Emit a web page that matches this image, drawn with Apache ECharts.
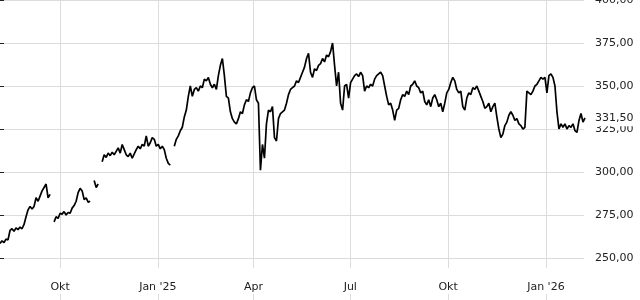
<!DOCTYPE html>
<html><head><meta charset="utf-8">
<script src="https://cdn.jsdelivr.net/npm/echarts@6/dist/echarts.min.js"></script>
<style>html,body{margin:0;padding:0;background:#fff}#c{width:640px;height:300px}</style>
</head><body><div id="c"></div>
<script>
// observation dates: first observation and spacing between observations
const startDate = '2024-08-05T12:00:00';
const stepDays = 1.8845;
const endDate = '2026-02-05T20:00:00';
// price readings (null = gap in the series)
const prices = [
258.5, 260, 259, 261, 260.5, 266, 267, 265.5, 267.5, 266.5,
268, 267, 269.5, 274, 278, 280, 278.5, 280, 285, 283,
286, 289, 291, 293, 285, 287, null, 271, 274, 273,
276, 275.5, 277, 275, 276.5, 276, 279, 280.5, 283, 288,
290.5, 289, 284, 285, 282.5, 283, null, 295, 291, 293,
null, 306, 310, 308.5, 311, 309.5, 311.5, 310, 312, 314,
311, 316, 313, 310, 309, 311, 308, 310.5, 313, 315,
313.5, 316, 315, 321, 315, 317, 320, 319, 315, 316,
313.5, 315, 313, 308, 305, 304, null, 315, 319, 321,
324, 326, 332, 336, 344, 350, 344, 348, 349, 347,
350, 349, 354, 353, 355, 351, 349, 351, 348, 356,
362, 366, 356, 344, 343, 335, 331, 329, 328, 331,
335, 334, 339, 342, 341, 346, 349, 350, 342, 340,
301, 316, 308, 328, 336, 335, 338, 320, 318, 331,
334, 335, 336, 340, 345, 348, 349, 350, 353, 352,
355, 358, 361, 366, 369, 358, 355, 360, 359, 362,
363, 366, 364, 368, 367, 370, 375, 362, 350, 358,
340, 336, 350, 351, 343, 352, 354, 356, 357, 355.5,
358, 356, 347, 350, 349, 351, 350, 354, 356, 357,
358, 356, 350, 344, 339, 340, 336, 330, 336, 337,
342, 345, 344, 347, 345, 350, 351, 353, 350, 349,
346, 347, 341, 339, 342, 338, 343, 345, 342, 338,
340, 335, 340, 346, 348, 352, 355, 353, 348, 346,
347, 338, 336, 343, 346, 345, 349, 348, 350, 347,
344, 341, 337, 338, 340, 335, 338, 340, 332, 325,
320, 322, 327, 329, 333, 335, 333, 330, 331, 328,
327, 325, 326, 347, 346, 345, 347, 350, 351, 353,
355, 354, 355, 346, 356, 357, 355, 350, 335, 325,
328, 326, 328, 325, 327, 326, 328, 324, 323, 330,
334, 329, 331.5
];
const lastPrice = 331.5;
const xTickDates = ['2024-10-01T00:00:00','2025-01-01T00:00:00','2025-04-01T00:00:00','2025-07-01T00:00:00','2025-10-01T00:00:00','2026-01-01T00:00:00'];
const xTickLabels = ['Okt', "Jan '25", 'Apr', 'Jul', 'Okt', "Jan '26"];
const yMin = 225, yMax = 400, yStep = 25;

const DAY = 86400000;
const startMs = new Date(startDate).getTime();
const endDays = (new Date(endDate).getTime() - startMs) / DAY;
const tickDays = xTickDates.map(d => (new Date(d).getTime() - startMs) / DAY);
const seriesData = prices.map((v, i) => [i * stepDays, v]);
const fmtNum = v => v.toFixed(2).replace('.', ',');
const FONT = 'DejaVu Sans';

const chart = echarts.init(document.getElementById('c'), null, {renderer: 'canvas'});
chart.setOption({
  animation: false,
  backgroundColor: '#fff',
  grid: {left: 0, right: 56, top: 0, bottom: -1, containLabel: false, outerBoundsMode: 'none'},
  xAxis: {
    type: 'value', min: 0, max: endDays,
    axisLine: {show: false},
    axisTick: {show: false, customValues: tickDays},
    splitLine: {show: true, lineStyle: {color: '#dcdcdc', width: 1}},
    axisLabel: {
      customValues: tickDays, inside: true, margin: 7,
      backgroundColor: '#fff', padding: [14, 1, 1, 1],
      fontFamily: FONT, fontSize: 11, color: '#222',
      formatter: function (val) {
        let best = 0, bd = Infinity;
        tickDays.forEach((t, i) => { const d = Math.abs(t - val); if (d < bd) { bd = d; best = i; } });
        return xTickLabels[best];
      }
    }
  },
  yAxis: {
    type: 'value', position: 'right', min: yMin, max: yMax, interval: yStep, offset: 1,
    axisLine: {show: false},
    axisTick: {show: true, length: 4, lineStyle: {color: '#222', width: 1}},
    splitLine: {show: true, lineStyle: {color: '#dcdcdc', width: 1}},
    axisLabel: {showMinLabel: false, margin: 10, fontFamily: FONT, fontSize: 11, color: '#222', formatter: fmtNum}
  },
  series: [{
    type: 'line', data: seriesData, showSymbol: false, connectNulls: false, clip: false,
    lineStyle: {color: '#000', width: 1.7}, z: 3,
    markLine: {
      silent: true, symbol: 'none', animation: false,
      lineStyle: {color: 'rgba(0,0,0,0)', width: 1},
      label: {show: true, position: 'end', distance: 9, formatter: () => fmtNum(lastPrice),
        backgroundColor: '#fff', padding: [3, 2, 3, 2], fontFamily: FONT, fontSize: 11, color: '#222'},
      data: [{yAxis: lastPrice}]
    }
  }]
});
</script></body></html>
